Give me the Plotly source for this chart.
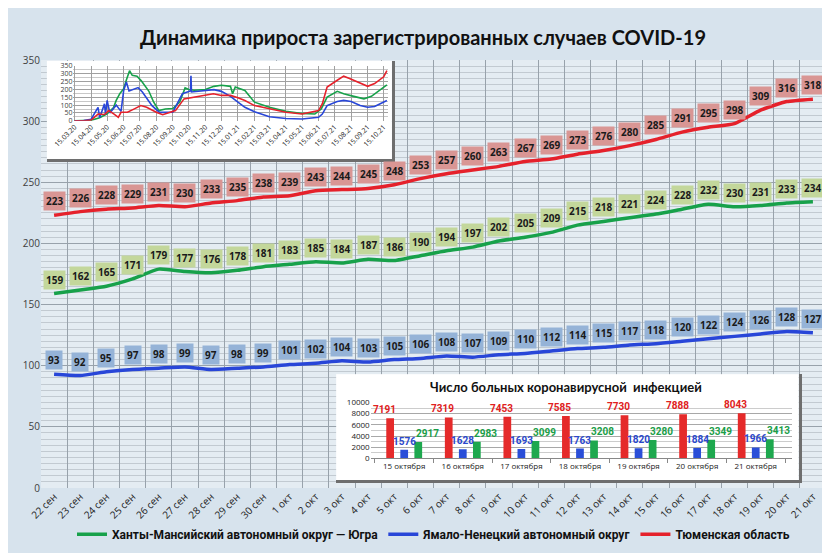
import plotly.graph_objects as go

# ---------------- main chart data ----------------
days = ["22 сен", "23 сен", "24 сен", "25 сен", "26 сен", "27 сен", "28 сен", "29 сен", "30 сен",
        "1 окт", "2 окт", "3 окт", "4 окт", "5 окт", "6 окт", "7 окт", "8 окт", "9 окт", "10 окт",
        "11 окт", "12 окт", "13 окт", "14 окт", "15 окт", "16 окт", "17 окт", "18 окт", "19 окт",
        "20 окт", "21 окт"]
tyumen = [223, 226, 228, 229, 231, 230, 233, 235, 238, 239, 243, 244, 245, 248, 253, 257, 260, 263,
          267, 269, 273, 276, 280, 285, 291, 295, 298, 309, 316, 318]
hmao = [159, 162, 165, 171, 179, 177, 176, 178, 181, 183, 185, 184, 187, 186, 190, 194, 197, 202,
        205, 209, 215, 218, 221, 224, 228, 232, 230, 231, 233, 234]
yanao = [93, 92, 95, 97, 98, 99, 97, 98, 99, 101, 102, 104, 103, 105, 106, 108, 107, 109, 110, 112,
         114, 115, 117, 118, 120, 122, 124, 126, 128, 127]

# ---------------- inset line chart data (long-term) ----------------
hmao_long_dates = ["2020-03-15", "2020-04-01", "2020-04-15", "2020-05-01", "2020-05-15", "2020-05-27",
                   "2020-06-01", "2020-06-08", "2020-06-15", "2020-06-20", "2020-06-26", "2020-07-01",
                   "2020-07-10", "2020-07-18", "2020-08-01", "2020-08-10", "2020-08-20", "2020-09-01",
                   "2020-09-15", "2020-09-28", "2020-10-08", "2020-10-15", "2020-10-25", "2020-11-15",
                   "2020-12-01", "2020-12-15", "2021-01-01", "2021-01-05", "2021-01-10", "2021-01-28",
                   "2021-02-15", "2021-03-15", "2021-04-15", "2021-05-15", "2021-06-08", "2021-06-20",
                   "2021-07-01", "2021-07-20", "2021-08-01", "2021-08-20", "2021-09-08", "2021-09-22",
                   "2021-10-21"]
hmao_long = [0, 0, 3, 20, 45, 85, 130, 175, 205, 260, 320, 290, 285, 255, 190, 120, 65, 75, 78, 120,
             210, 200, 195, 200, 220, 227, 220, 173, 216, 194, 119, 86, 60, 47, 43, 76, 151, 188, 173,
             156, 140, 156, 230]

tyumen_long_dates = ["2020-03-15", "2020-04-01", "2020-04-15", "2020-04-28", "2020-05-10", "2020-05-18",
                     "2020-05-28", "2020-06-05", "2020-06-10", "2020-06-22", "2020-07-05", "2020-07-17",
                     "2020-07-28", "2020-08-15", "2020-08-27", "2020-09-20", "2020-10-06", "2020-10-25",
                     "2020-11-30", "2020-12-15", "2021-01-01", "2021-01-15", "2021-01-28", "2021-02-15",
                     "2021-03-15", "2021-04-15", "2021-05-15", "2021-06-15", "2021-06-22", "2021-07-01",
                     "2021-07-20", "2021-08-01", "2021-08-12", "2021-09-01", "2021-09-15", "2021-09-28",
                     "2021-10-15", "2021-10-21"]
tyumen_long = [0, 0, 5, 43, 40, 65, 43, 22, 54, 54, 76, 97, 86, 54, 39, 65, 140, 151, 173, 162, 162,
               147, 130, 97, 76, 54, 43, 65, 108, 216, 259, 285, 270, 238, 220, 238, 281, 320]

yanao_long_dates = ["2020-03-15", "2020-04-01", "2020-04-15", "2020-04-28", "2020-05-01", "2020-05-10",
                    "2020-05-12", "2020-05-15", "2020-05-20", "2020-06-01", "2020-06-10", "2020-06-15",
                    "2020-06-20", "2020-06-25", "2020-07-12", "2020-07-20", "2020-08-07", "2020-08-21",
                    "2020-09-15", "2020-10-03", "2020-10-18", "2020-10-19", "2020-10-20", "2020-11-15",
                    "2020-12-01", "2020-12-15", "2021-01-01", "2021-01-15", "2021-01-28", "2021-02-15",
                    "2021-03-15", "2021-04-15", "2021-05-15", "2021-06-15", "2021-06-22", "2021-07-01",
                    "2021-07-20", "2021-08-01", "2021-08-15", "2021-09-01", "2021-09-15", "2021-09-28",
                    "2021-10-21"]
yanao_long = [0, 2, 10, 86, 20, 108, 40, 130, 50, 100, 60, 194, 248, 190, 212, 184, 97, 54, 55, 173,
              190, 287, 184, 194, 199, 188, 156, 119, 86, 58, 26, 15, 11, 22, 43, 97, 123, 130, 123,
              97, 86, 91, 130]

# ---------------- inset bar chart data ----------------
bar_days = ["15 октября", "16 октября", "17 октября", "18 октября", "19 октября", "20 октября", "21 октября"]
bar_tyumen = [7191, 7319, 7453, 7585, 7730, 7888, 8043]
bar_yanao = [1576, 1628, 1693, 1763, 1820, 1884, 1966]
bar_hmao = [2917, 2983, 3099, 3208, 3280, 3349, 3413]

names = {"hmao": "Ханты-Мансийский автономный округ — Югра",
         "yanao": "Ямало-Ненецкий автономный округ",
         "tyumen": "Тюменская область"}

RED, GREEN, BLUE = "#e5212b", "#17a14a", "#2846d8"
RED_BOX, GREEN_BOX, BLUE_BOX = "#d99694", "#c3d79b", "#95b3d7"

fig = go.Figure()

# main lines
for key, vals, col in [("hmao", hmao, GREEN), ("yanao", yanao, BLUE), ("tyumen", tyumen, RED)]:
    fig.add_trace(go.Scatter(x=days, y=vals, mode="lines", name=names[key],
                             line=dict(color=col, width=3.5, shape="spline", smoothing=0.5),
                             xaxis="x", yaxis="y"))

# empty traces to create the white inset boxes
fig.add_trace(go.Scatter(x=[], y=[], xaxis="x2", yaxis="y2", showlegend=False))
fig.add_trace(go.Scatter(x=[], y=[], xaxis="x4", yaxis="y4", showlegend=False))

# inset long-term lines
for d, vals, col in [(hmao_long_dates, hmao_long, GREEN), (yanao_long_dates, yanao_long, BLUE),
                     (tyumen_long_dates, tyumen_long, RED)]:
    fig.add_trace(go.Scatter(x=d, y=vals, mode="lines", line=dict(color=col, width=1.6),
                             xaxis="x3", yaxis="y3", showlegend=False))

# inset bars
for vals, col in [(bar_tyumen, "#e52a2a"), (bar_yanao, "#2a4ed8"), (bar_hmao, "#1ea84e")]:
    fig.add_trace(go.Bar(x=bar_days, y=vals, marker=dict(color=col, line=dict(width=0)),
                         xaxis="x5", yaxis="y5", showlegend=False))

# data labels on main lines
ann = []
for vals, box in [(tyumen, RED_BOX), (hmao, GREEN_BOX), (yanao, BLUE_BOX)]:
    for d, v in zip(days, vals):
        ann.append(dict(x=d, y=v, xref="x", yref="y", text=str(v), showarrow=False,
                        yshift=14, bgcolor=box, borderpad=2,
                        font=dict(size=10, color="#1a1a1a", family="Open Sans", weight="bold")))

# data labels on inset bars (offset sideways like the original, so they do not collide)
for vals, tcol, dx in [(bar_tyumen, "#e02020", -20), (bar_yanao, "#2a48cc", 0), (bar_hmao, "#1a9e48", 23)]:
    for d, v in zip(bar_days, vals):
        ann.append(dict(x=d, y=v, xref="x5", yref="y5", text=str(v), showarrow=False,
                        xshift=dx, yshift=1, yanchor="bottom",
                        font=dict(size=10, color=tcol, family="Roboto", weight="bold")))

ann.append(dict(text="Число больных коронавирусной  инфекцией", x=0.669, y=0.236, xref="paper",
                yref="paper", showarrow=False, xanchor="center", yanchor="middle",
                font=dict(size=13, color="#111111", family="Lato", weight="bold")))

grid_major = "#98a2ab"
grid_minor = "#c2cad1"

fig.update_layout(
    width=830, height=553,
    margin=dict(l=27, r=12, t=52, b=65),
    paper_bgcolor="#d7e3ed",
    plot_bgcolor="white",
    title=dict(text="Динамика прироста зарегистрированных случаев COVID-19",
               x=0.5, xanchor="center", y=0.945, yanchor="middle",
               font=dict(family="Lato", size=20, color="#111111", weight="bold")),
    font=dict(family="Open Sans", color="#333333"),
    showlegend=True,
    legend=dict(orientation="h", x=0.5, xanchor="center", y=-0.108, yanchor="middle",
                bgcolor="rgba(0,0,0,0)", font=dict(size=12, color="#111111",
                family="Roboto", weight="bold"),
                itemwidth=30, tracegroupgap=0),
    barmode="group", bargap=0.28, bargroupgap=0.45,
    annotations=ann,
    shapes=[dict(type="rect", xref="paper", yref="paper", x0=0, x1=1, y0=0, y1=1,
                 fillcolor="#e4ecf2", line=dict(width=0), layer="below")],
    xaxis=dict(type="category", range=[-0.5, 29.5], tickson="boundaries", showgrid=True,
               gridcolor=grid_major, gridwidth=1, tickangle=-45, ticks="",
               tickfont=dict(size=10, color="#222222"), showline=False, zeroline=False,
               domain=[0, 1]),
    yaxis=dict(range=[0, 350], dtick=50, showgrid=True, gridcolor=grid_major,
               minor=dict(dtick=5, showgrid=True, gridcolor=grid_minor, gridwidth=1),
               tickfont=dict(size=10, color="#404040"), zeroline=False, ticks="", domain=[0, 1]),
    # box for line inset
    xaxis2=dict(domain=[0.0075, 0.447], range=[0, 1], anchor="y2", showgrid=False, zeroline=False,
                showticklabels=False, ticks="", showline=True, linecolor="#6e6e6e", linewidth=3),
    yaxis2=dict(domain=[0.768, 0.998], range=[0, 1], anchor="x2", side="right", showgrid=False,
                zeroline=False, showticklabels=False, ticks="", showline=True,
                linecolor="#6e6e6e", linewidth=3),
    # line inset
    xaxis3=dict(domain=[0.0414, 0.442], type="date", range=["2020-03-13", "2021-10-23"],
                anchor="y3", tick0="2020-03-15", dtick="M1", tickformat="%d.%m.%y",
                tickangle=-45, tickfont=dict(size=7, color="#222222"), showgrid=True,
                gridcolor="#a0a0a0", gridwidth=1, zeroline=False, ticks=""),
    yaxis3=dict(domain=[0.858, 0.986], range=[0, 350], dtick=50, anchor="x3",
                tickfont=dict(size=7, color="#404040"), showgrid=True, gridcolor="#a0a0a0",
                minor=dict(dtick=25, showgrid=True, gridcolor="#c8c8c8"), zeroline=False, ticks=""),
    # box for bar inset
    xaxis4=dict(domain=[0.376, 0.965], range=[0, 1], anchor="y4", showgrid=False, zeroline=False,
                showticklabels=False, ticks="", showline=True, linecolor="#6e6e6e", linewidth=3),
    yaxis4=dict(domain=[0.018, 0.266], range=[0, 1], anchor="x4", side="right", showgrid=False,
                zeroline=False, showticklabels=False, ticks="", showline=True,
                linecolor="#6e6e6e", linewidth=3),
    # bar inset
    xaxis5=dict(domain=[0.42, 0.957], type="category", anchor="y5", tickson="boundaries",
                ticks="outside", ticklen=4, tickcolor="#888888", showline=True, linecolor="#888888",
                tickfont=dict(size=8, color="#222222"), showgrid=False),
    yaxis5=dict(domain=[0.069, 0.2], range=[0, 10000], dtick=2000, anchor="x5", tickformat="d",
                tickfont=dict(size=8, color="#222222"), showgrid=True, gridcolor="#a8a8a8",
                minor=dict(dtick=1000, showgrid=True, gridcolor="#cccccc"), zeroline=False, ticks=""),
)

fig.write_html("out.html")
